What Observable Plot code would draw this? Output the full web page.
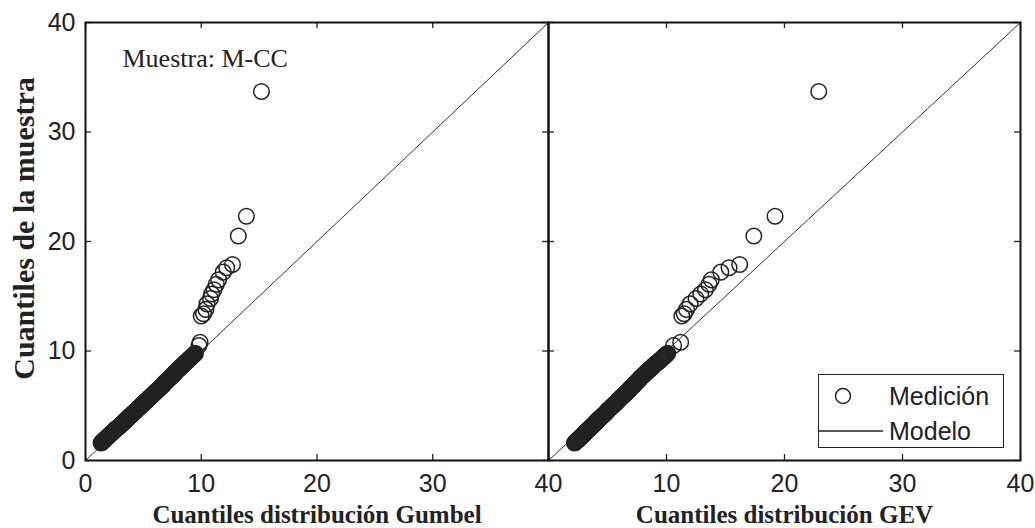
<!DOCTYPE html>
<html><head><meta charset="utf-8">
<script src="https://cdn.jsdelivr.net/npm/d3@7"></script>
<script src="https://cdn.jsdelivr.net/npm/@observablehq/plot@0.6"></script>
<style>
html,body{margin:0;padding:0;background:#fff;}
#wrap{position:relative;width:1035px;height:528px;overflow:hidden;}
#wrap svg.p{position:absolute;top:0;}
#legend{position:absolute;left:818px;top:374px;width:184px;height:72px;border:1.5px solid #222;background:#fff;font-family:"Liberation Sans",Arial,sans-serif;font-size:25px;color:#222;}
#legend .row{position:absolute;left:0;height:34px;display:flex;align-items:center;}
#legend svg{display:block;}
</style></head><body>
<div id="wrap">
  <div id="legend">
    <div class="row" style="top:4px"><svg width="70" height="34"><circle cx="24" cy="17" r="7.5" fill="none" stroke="#222" stroke-width="1.5"/></svg><span>Medición</span></div>
    <div class="row" style="top:39px"><svg width="70" height="34"><line x1="0" x2="64" y1="17" y2="17" stroke="#222" stroke-width="1.3"/></svg><span>Modelo</span></div>
  </div>
</div>
<script>
// Sample quantiles (y): dense band, then the upper tail
const sampleQ = [
1.60,1.65,1.70,1.75,1.80,1.85,1.90,1.95,2.00,2.05,2.10,2.15,2.20,2.25,2.30,2.35,2.40,2.45,2.50,2.55,2.60,2.65,2.70,2.75,2.80,2.85,2.90,2.95,
3.00,3.05,3.10,3.15,3.20,3.25,3.30,3.35,3.40,3.45,3.50,3.55,3.60,3.65,3.70,3.75,3.80,3.85,3.90,3.95,4.00,4.05,4.10,4.15,4.20,4.25,4.30,4.35,4.40,4.45,4.50,4.55,4.60,4.65,4.70,4.75,4.80,4.85,4.90,4.95,
5.00,5.05,5.10,5.15,5.20,5.25,5.30,5.35,5.40,5.45,5.50,5.55,5.60,5.65,5.70,5.75,5.80,5.85,5.90,5.95,6.00,6.05,6.10,6.15,6.20,6.25,6.30,6.35,6.40,6.45,6.50,6.55,6.60,6.65,6.70,6.75,6.80,6.85,6.90,6.95,
7.00,7.05,7.10,7.15,7.20,7.25,7.30,7.35,7.40,7.45,7.50,7.55,7.60,7.65,7.70,7.75,7.80,7.85,7.90,7.95,
8.00,8.05,8.10,8.15,8.20,8.25,8.30,8.35,8.40,8.45,8.50,8.55,8.60,8.65,8.70,8.75,8.80,8.85,8.90,8.95,9.00,9.05,9.10,9.15,9.20,9.25,9.30,9.35,9.40,9.45,9.50,9.55,9.60,9.65,9.70,9.75,9.80,
10.5,10.8,13.2,13.4,13.8,14.3,14.8,15.2,15.6,16.1,16.5,17.2,17.6,17.9,20.5,22.3,33.7];
// Gumbel theoretical quantiles (x, left panel)
const gumbelQ = [
1.35,1.40,1.45,1.50,1.55,1.60,1.65,1.70,1.75,1.80,1.85,1.90,1.95,2.00,2.05,2.10,2.15,2.20,2.25,2.30,2.35,2.40,2.45,2.50,2.55,2.60,2.65,2.70,
2.80,2.85,2.90,2.95,3.00,3.05,3.10,3.15,3.20,3.25,3.30,3.35,3.40,3.45,3.50,3.55,3.60,3.65,3.70,3.75,3.80,3.85,3.90,3.95,4.00,4.05,4.10,4.15,4.20,4.25,4.30,4.35,4.40,4.45,4.50,4.55,4.60,4.65,4.70,4.75,
4.80,4.85,4.90,4.95,5.00,5.05,5.10,5.15,5.20,5.25,5.30,5.35,5.40,5.45,5.50,5.55,5.60,5.65,5.70,5.75,5.80,5.85,5.90,5.95,6.00,6.05,6.10,6.15,6.20,6.25,6.30,6.35,6.40,6.45,6.50,6.55,6.60,6.65,6.70,6.75,
6.75,6.80,6.85,6.90,6.95,7.00,7.05,7.10,7.15,7.20,7.25,7.30,7.35,7.40,7.45,7.50,7.55,7.60,7.65,7.70,
7.70,7.75,7.80,7.85,7.90,7.95,8.00,8.05,8.10,8.15,8.20,8.25,8.30,8.35,8.40,8.45,8.50,8.55,8.60,8.65,8.70,8.75,8.80,8.85,8.90,8.95,9.00,9.05,9.10,9.15,9.20,9.25,9.30,9.35,9.40,9.45,9.50,
9.8,9.9,10.0,10.2,10.4,10.5,10.8,10.9,11.1,11.3,11.5,11.9,12.2,12.7,13.2,13.9,15.2];
// GEV theoretical quantiles (x, right panel)
const gevQ = [
2.20,2.25,2.30,2.35,2.40,2.45,2.50,2.55,2.60,2.65,2.70,2.75,2.80,2.85,2.90,2.95,3.00,3.05,
3.05,3.10,3.15,3.20,3.25,3.30,3.35,3.40,3.45,3.50,3.55,3.60,3.65,3.70,3.75,3.80,3.85,3.90,3.95,4.00,
4.00,4.05,4.10,4.15,4.20,4.25,4.30,4.35,4.40,4.45,4.50,4.55,4.60,4.65,4.70,4.75,4.80,4.85,4.90,4.95,
4.95,5.00,5.05,5.10,5.15,5.20,5.25,5.30,5.35,5.40,5.45,5.50,5.55,5.60,5.65,5.70,5.75,5.80,5.85,5.90,
5.90,5.95,6.00,6.05,6.10,6.15,6.20,6.25,6.30,6.35,6.40,6.45,6.50,6.55,6.60,6.65,6.70,6.75,6.80,6.85,
6.85,6.90,6.95,7.00,7.05,7.10,7.15,7.20,7.25,7.30,
7.30,7.35,7.40,7.45,7.50,7.55,7.60,7.65,7.70,7.75,
7.75,7.80,7.85,7.90,7.95,8.00,8.05,8.10,8.15,8.20,
8.25,8.30,8.35,8.40,8.45,8.50,8.55,8.60,8.65,8.70,8.75,8.80,8.85,8.90,8.95,9.00,9.05,9.10,9.15,9.20,
9.30,9.35,9.40,9.45,9.50,9.55,9.60,9.65,9.70,9.75,9.80,9.85,9.90,9.95,10.00,10.05,10.10,
10.6,11.2,11.3,11.5,11.7,12.0,12.5,12.9,13.3,13.6,13.8,14.6,15.3,16.2,17.4,19.2,22.9];
const modelLine = [0, 40];
const axisTicks = [0, 10, 20, 30, 40];
const leftXLabels = [0, 10, 20, 30, 40];
const rightXLabels = [10, 20, 30, 40];
const yLabels = [0, 10, 20, 30, 40];
const xTitles = ["Cuantiles distribución Gumbel", "Cuantiles distribución GEV"];
const yTitle = "Cuantiles de la muestra";
const note = "Muestra: M-CC";

const rows = sampleQ.map((y, i) => ({y, gumbel: gumbelQ[i], gev: gevQ[i]}));

const SANS = "'Liberation Sans', Arial, sans-serif";
const SERIF = "'Liberation Serif', 'Times New Roman', serif";
const INK = "#222";
const TK = 6; // tick length px

function panel({xKey, xTitle, xLabels, marginLeft, width, innerW, showY, showNote}) {
  const marginRight = width - marginLeft - innerW;
  const innerH = 528 - 22 - 68;
  const marks = [
    Plot.line(modelLine, {x: d => d, y: d => d, stroke: "#333", strokeWidth: 1}),
    Plot.dot(rows, {x: xKey, y: "y", r: 7.8, stroke: INK, strokeWidth: 1.5, fill: "none"}),
    Plot.tickX(axisTicks, {x: d => d, insetTop: innerH - TK, stroke: INK, strokeWidth: 1.3}),
    Plot.tickX(axisTicks, {x: d => d, insetBottom: innerH - TK, stroke: INK, strokeWidth: 1.3}),
    Plot.tickY(axisTicks, {y: d => d, insetRight: innerW - TK, stroke: INK, strokeWidth: 1.3}),
    Plot.tickY(axisTicks, {y: d => d, insetLeft: innerW - TK, stroke: INK, strokeWidth: 1.3}),
    Plot.frame({stroke: "#111", strokeWidth: 2}),
    Plot.axisX({ticks: xLabels, tickSize: 0, tickPadding: 14, fontSize: 25, label: null, fill: INK}),
    Plot.text([xTitle], {text: d => d, frameAnchor: "bottom", lineAnchor: "middle", dy: 54, fontFamily: SERIF, fontWeight: "bold", fontSize: 25, fill: INK})
  ];
  if (showY) {
    marks.push(Plot.axisY({ticks: yLabels, tickSize: 0, tickPadding: 10, fontSize: 25, label: null, fill: INK}));
    marks.push(Plot.text([yTitle], {text: d => d, frameAnchor: "left", textAnchor: "middle", lineAnchor: "middle", dx: -61, dy: -13, rotate: -90, fontFamily: SERIF, fontWeight: "bold", fontSize: 30, fill: INK}));
  }
  if (showNote) {
    marks.push(Plot.text([note], {text: d => d, frameAnchor: "top-left", dx: 37, dy: 26, textAnchor: "start", fontFamily: SERIF, fontSize: 26, fill: INK}));
  }
  const svg = Plot.plot({
    width, height: 528,
    marginTop: 22, marginBottom: 68, marginLeft, marginRight,
    x: {domain: [0, 40]},
    y: {domain: [0, 40], axis: showY ? undefined : null},
    style: {background: "transparent", fontFamily: SANS, overflow: "visible"},
    marks
  });
  svg.classList.add("p");
  return svg;
}

const wrap = document.getElementById("wrap");
const left = panel({xKey: "gumbel", xTitle: xTitles[0], xLabels: leftXLabels, marginLeft: 85, width: 560, innerW: 463, showY: true, showNote: true});
left.style.left = "0px";
const right = panel({xKey: "gev", xTitle: xTitles[1], xLabels: rightXLabels, marginLeft: 10, width: 497, innerW: 472, showY: false, showNote: false});
right.style.left = "538px";
wrap.insertBefore(left, wrap.firstChild);
wrap.insertBefore(right, document.getElementById("legend"));
</script>
</body></html>
